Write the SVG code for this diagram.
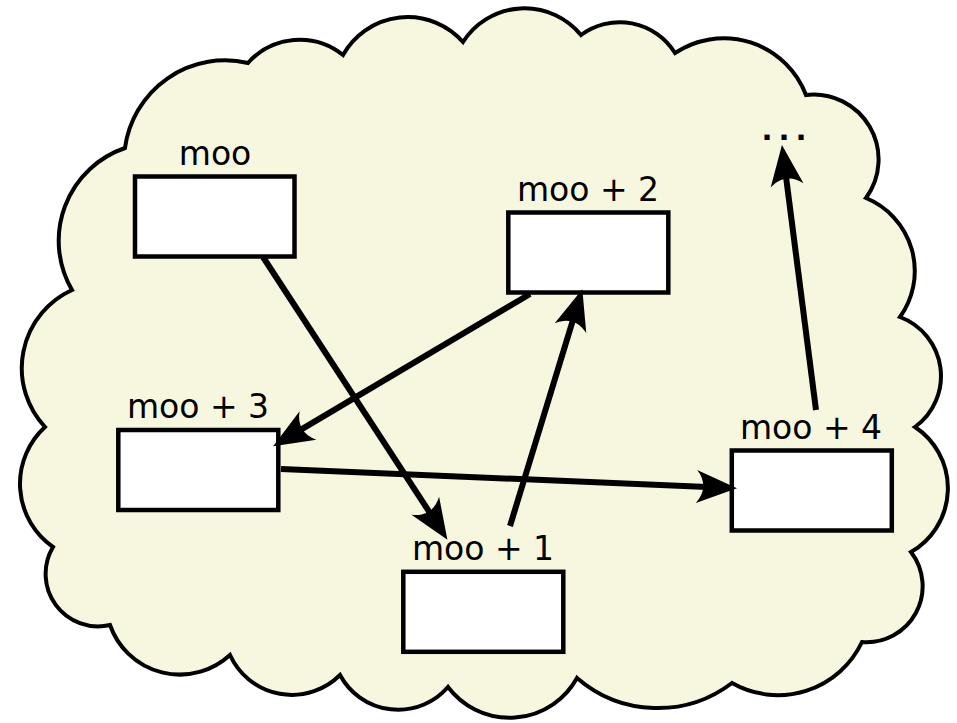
<svg xmlns="http://www.w3.org/2000/svg" width="957" height="723" viewBox="0 0 957 723">
<style>
.cloud{fill:#f7f6df;stroke:#000;stroke-width:4;stroke-linejoin:miter;stroke-miterlimit:12}
.box{fill:#fff;stroke:#000;stroke-width:4.5}
.lbl{font-family:"DejaVu Sans",sans-serif;font-size:33px;fill:#000;text-anchor:middle}
.edge{fill:none;stroke:#000;stroke-width:6;marker-end:url(#ah)}
</style>
<defs>
<marker id="ah" markerUnits="userSpaceOnUse" orient="auto" refX="0" refY="0" markerWidth="60" markerHeight="60" viewBox="-20 -20 40 40" overflow="visible">
<path d="M16,0 L-11,-11 C-5,-4 -5,4 -11,11 Z" fill="#000"/>
</marker>
</defs>
<rect width="957" height="723" fill="#fff"/>
<path class="cloud" d="M343,55 A74,74 0 0 1 463,42 A73,73 0 0 1 581,35 A65,65 0 0 1 675,53 A88,88 0 0 1 806,95 A65,65 0 0 1 866,198 A79,79 0 0 1 900,317 A63,63 0 0 1 915,427 A73.5,73.5 0 0 1 911,552 A56,56 0 0 1 862,642 A93,93 0 0 1 732,683 A123,123 0 0 1 577,678 A77,77 0 0 1 448,687 A66,66 0 0 1 340,675 A68,68 0 0 1 230,655 A74,74 0 0 1 110,625 A52.5,52.5 0 0 1 53,547 A77,77 0 0 1 45,427 A86,86 0 0 1 72,290 A98,98 0 0 1 125,148 A101,101 0 0 1 248,63 A69,69 0 0 1 343,55 Z"/>
<g id="node-moo">
<rect class="box" x="135" y="176.5" width="159.5" height="80"/>
<text class="lbl" x="215" y="164.5">moo</text>
</g>
<g id="node-moo2">
<rect class="box" x="508.3" y="212.5" width="160" height="80"/>
<text class="lbl" x="588" y="201">moo + 2</text>
</g>
<g id="node-moo3">
<rect class="box" x="118.3" y="430" width="160" height="80"/>
<text class="lbl" x="198" y="417.5">moo + 3</text>
</g>
<g id="node-moo1">
<rect class="box" x="403.3" y="571.8" width="160" height="80"/>
<text class="lbl" x="483" y="559.5">moo + 1</text>
</g>
<g id="node-moo4">
<rect class="box" x="731.8" y="450.5" width="160" height="80"/>
<text class="lbl" x="811" y="438.5">moo + 4</text>
</g>
<g id="node-more">
<text x="761.5" y="140" style="font-family:'DejaVu Sans',sans-serif;font-size:29px;font-weight:bold;letter-spacing:6px">...</text>
</g>
<g id="connectors">
<path class="edge" d="M263,257 L434.3,519.6"/>
<path class="edge" d="M510,526 L575.3,312.3"/>
<path class="edge" d="M530,294 L293.8,433.9"/>
<path class="edge" d="M281,469 L713,487.3"/>
<path class="edge" d="M816,410 L785,168.9"/>
</g>
</svg>
